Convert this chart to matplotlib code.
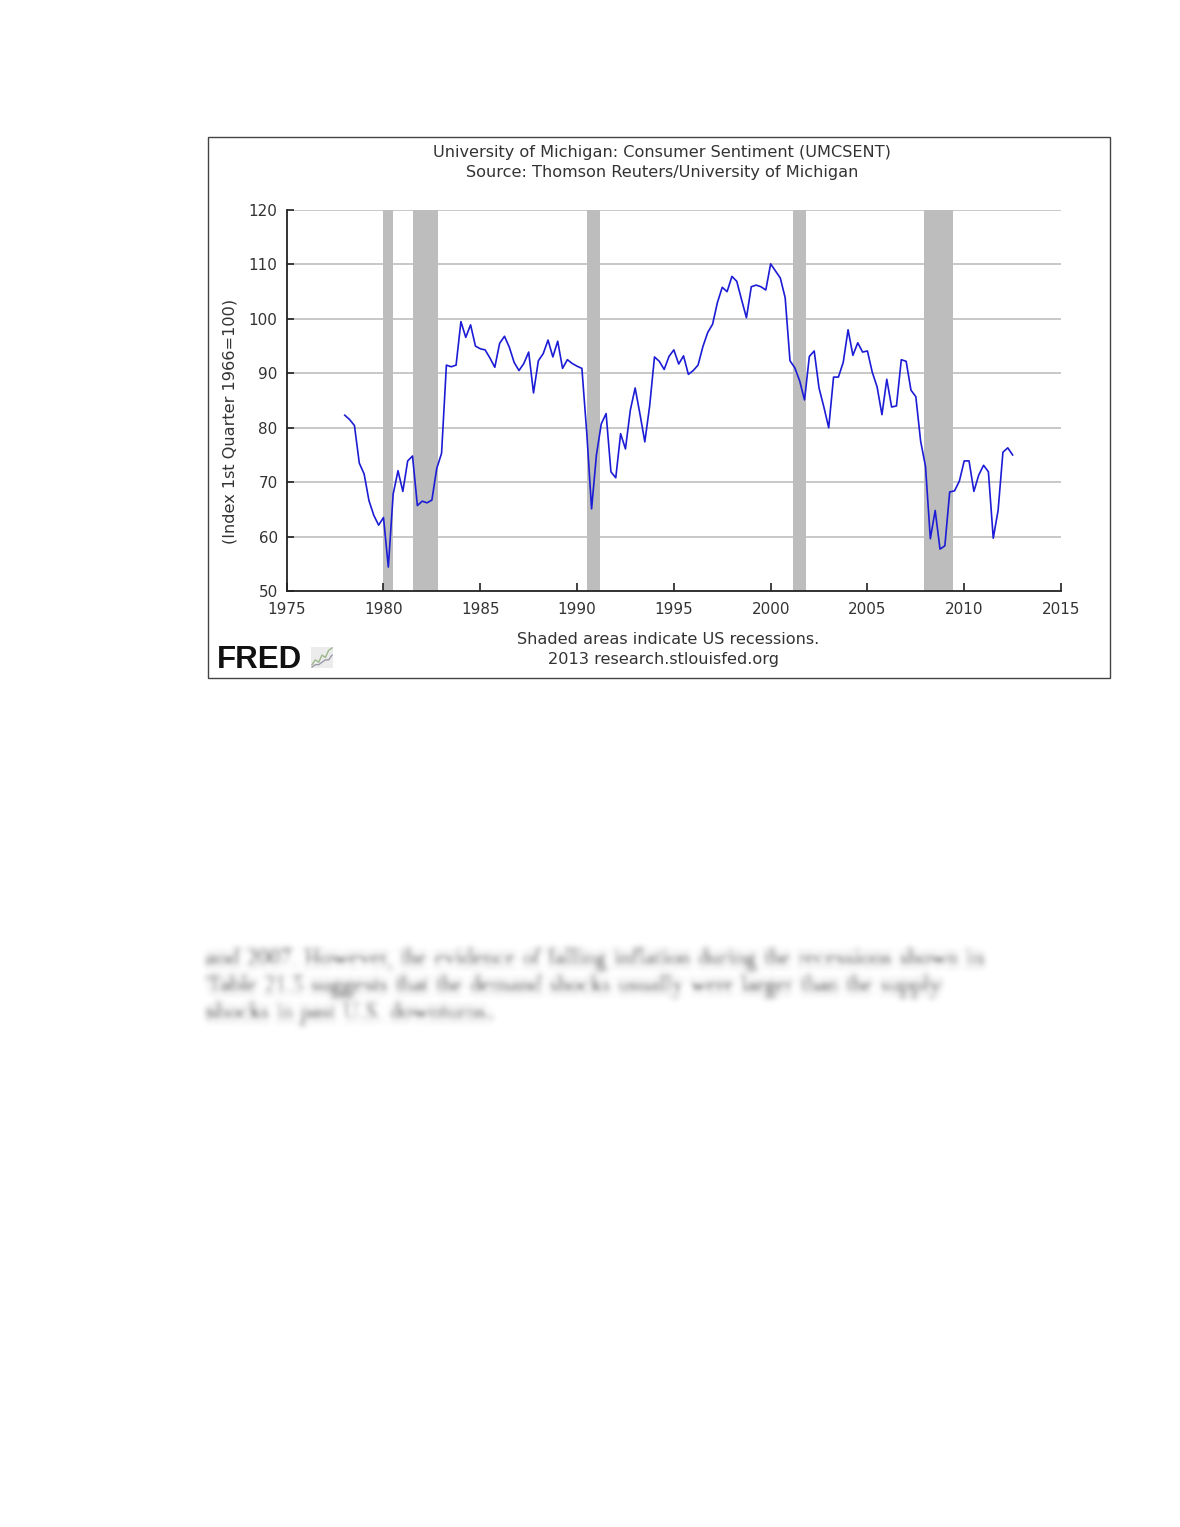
import numpy as np
import pandas as pd
import matplotlib
matplotlib.use('Agg')
import matplotlib.pyplot as plt
from matplotlib.patches import Rectangle

plt.rcParams['font.family'] = ['DejaVu Sans']

# UMCSENT, quarterly, 1978Q1 - 2012Q3
umcsent = [
    82.3, 81.5, 80.4, 73.5,   # 1978
    71.5, 66.6, 63.9, 62.1,   # 1979
    63.5, 54.4, 67.8, 72.1,   # 1980
    68.3, 73.9, 74.8, 65.7,   # 1981
    66.5, 66.2, 66.7, 72.5,   # 1982
    75.3, 91.5, 91.2, 91.5,   # 1983
    99.5, 96.6, 98.9, 95.0,   # 1984
    94.5, 94.3, 92.8, 91.1,   # 1985
    95.5, 96.8, 94.8, 92.0,   # 1986
    90.5, 91.8, 93.9, 86.4,   # 1987
    92.3, 93.6, 96.1, 93.0,   # 1988
    95.9, 90.9, 92.5, 91.8,   # 1989
    91.3, 90.9, 79.1, 65.1,   # 1990
    75.0, 80.7, 82.6, 71.9,   # 1991
    70.8, 78.9, 76.1, 83.2,   # 1992
    87.3, 82.5, 77.4, 84.0,   # 1993
    93.0, 92.2, 90.7, 93.1,   # 1994
    94.3, 91.7, 93.2, 89.8,   # 1995
    90.5, 91.5, 94.9, 97.5,   # 1996
    99.0, 103.0, 105.8, 105.0,  # 1997
    107.8, 106.9, 103.5, 100.2,  # 1998
    105.9, 106.2, 105.9, 105.3,  # 1999
    110.1, 108.8, 107.5, 103.9,  # 2000
    92.3, 91.0, 88.6, 85.1,   # 2001
    93.1, 94.1, 87.3, 83.8,   # 2002
    80.0, 89.3, 89.3, 92.0,   # 2003
    98.0, 93.3, 95.6, 93.9,   # 2004
    94.1, 90.2, 87.5, 82.4,   # 2005
    88.9, 83.8, 84.0, 92.5,   # 2006
    92.2, 86.9, 85.7, 77.5,   # 2007
    72.9, 59.6, 64.8, 57.7,   # 2008
    58.3, 68.2, 68.4, 70.2,   # 2009
    73.9, 73.9, 68.3, 71.3,   # 2010
    73.1, 71.9, 59.7, 64.8,   # 2011
    75.5, 76.3, 75.0,         # 2012
]
quarters = pd.period_range('1978Q1', '2012Q3', freq='Q')
years = quarters.year + (quarters.quarter - 1) / 4.0

# US recessions (start, end) as decimal years
recessions = [(1980.0, 1980.5), (1981.5, 1982.83), (1990.5, 1991.17),
              (2001.17, 2001.83), (2007.92, 2009.42)]

xticks = [1975, 1980, 1985, 1990, 1995, 2000, 2005, 2010, 2015]
yticks = [50, 60, 70, 80, 90, 100, 110, 120]

body_lines = [
    "and 2007. However, the evidence of falling inflation during the recessions shown in",
    "Table 21.5 suggests that the demand shocks usually were larger than the supply",
    "shocks in past U.S. downturns.",
]

# tiny FRED logo sparkline
logo_a = [2, 4, 3, 6, 5, 8, 9]
logo_b = [1, 2, 2, 3, 4, 4, 6]

W, H = 1180, 1527
fig = plt.figure(figsize=(W / 100, H / 100), dpi=100)
fig.patch.set_facecolor('white')


def fx(px):
    return px / W


def fy(py):
    return 1 - py / H


# chart frame
fig.patches.append(Rectangle((fx(208), fy(678)), fx(1110) - fx(208), fy(137) - fy(678),
                             transform=fig.transFigure, fill=False,
                             edgecolor='#444444', linewidth=1.0))

ax = fig.add_axes([fx(286.7), fy(591), fx(1061) - fx(286.7), fy(210) - fy(591)])
for a, b in recessions:
    ax.axvspan(a, b, color='#bdbdbd', lw=0, zorder=1)
for v in yticks[1:]:
    ax.axhline(v, color='#c4c4c4', lw=1.3, zorder=0.5)
ax.plot(years, umcsent, color='#1c1cd6', lw=1.2, zorder=3)

ax.set_xlim(1975, 2015)
ax.set_ylim(50, 120)
ax.set_xticks(xticks)
ax.set_yticks(yticks)
for s in ['top', 'right']:
    ax.spines[s].set_visible(False)
for s in ['left', 'bottom']:
    ax.spines[s].set_color('#222222')
    ax.spines[s].set_linewidth(1.3)
ax.tick_params(direction='in', length=5, width=1.2, color='#222222',
               labelsize=10.9, labelcolor='#333333')
ax.tick_params(axis='x', pad=8, length=6)
ax.tick_params(axis='y', pad=6.5)
ax.set_facecolor('white')

txt = dict(ha='center', va='center', fontsize=11.6, color='#333333')
fig.text(fx(230), fy(421), '(Index 1st Quarter 1966=100)', rotation=90, **txt)
fig.text(fx(662), fy(153), 'University of Michigan: Consumer Sentiment (UMCSENT)', **txt)
fig.text(fx(662), fy(172), 'Source: Thomson Reuters/University of Michigan', **txt)
fig.text(fx(668), fy(639), 'Shaded areas indicate US recessions.', **txt)
fig.text(fx(663), fy(659), '2013 research.stlouisfed.org', **txt)

fig.text(fx(217), fy(668), 'FRED', ha='left', va='baseline', fontsize=22.5,
         fontweight='bold', family='Liberation Sans', color='#111111')
lax = fig.add_axes([fx(311), fy(668), fx(333) - fx(311), fy(647) - fy(668)])
lax.set_facecolor('#ececec')
lax.plot(range(len(logo_a)), logo_a, color='#9ab88a', lw=1)
lax.plot(range(len(logo_b)), logo_b, color='#9a9aa8', lw=1)
lax.set_xticks([])
lax.set_yticks([])
for s in lax.spines.values():
    s.set_visible(False)


def blur(im, dpi, sigma=3.4):
    r = int(3 * sigma)
    k = np.exp(-0.5 * (np.arange(-r, r + 1) / sigma) ** 2)
    k /= k.sum()
    pad = np.pad(im, ((r, r), (r, r), (0, 0)))
    out = np.apply_along_axis(lambda m: np.convolve(m, k, mode='same'), 0, pad)
    out = np.apply_along_axis(lambda m: np.convolve(m, k, mode='same'), 1, out)
    out[..., 3] = np.clip(out[..., 3] * 1.3, 0, 1)
    return out, -r, -r


for i, line in enumerate(body_lines):
    t = fig.text(fx(207), fy(960 + 26.5 * i), line, ha='left', va='center',
                 fontsize=16.7, family='Liberation Serif', color='#000000')
    t.set_agg_filter(blur)

fig.savefig('out.png', dpi=100, facecolor='white')
